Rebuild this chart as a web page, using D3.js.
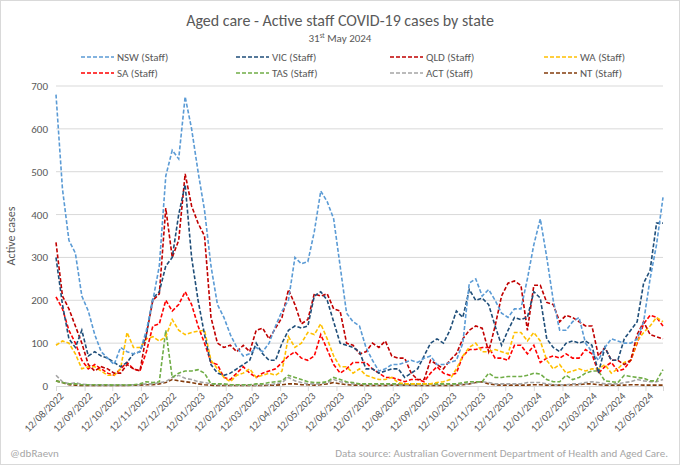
<!DOCTYPE html>
<html>
<head>
<meta charset="utf-8">
<script src="https://cdn.jsdelivr.net/npm/d3@7"></script>
<style>
  body { margin: 0; background: #fff; }
  text { font-family: Calibri, Carlito, "Open Sans", sans-serif; }
</style>
</head>
<body>
<div id="chart"></div>
<script>
// weekly reporting dates, starting 12/08/2022
const startDate = new Date(2022, 7, 12);
const endDate = new Date(2024, 4, 31);

const nsw = [680,460,340,310,210,175,120,80,65,50,90,80,75,80,130,200,280,490,550,530,675,600,500,410,280,190,160,120,90,70,75,90,80,100,140,175,200,300,285,290,360,455,430,390,280,170,150,140,90,60,35,40,50,50,55,60,55,65,70,50,50,55,60,100,240,250,210,225,200,170,160,180,180,250,330,390,300,200,130,130,150,160,100,80,60,90,110,105,100,100,110,150,250,330,440];
const vic = [300,190,110,90,130,70,80,70,65,55,45,55,75,80,120,205,220,280,300,400,470,300,200,120,50,30,25,30,40,50,60,100,75,60,60,100,130,140,135,140,210,220,200,150,100,95,90,80,40,40,30,35,40,40,20,30,40,70,100,110,100,130,175,160,225,200,205,190,140,95,130,160,155,160,220,205,110,90,80,100,105,100,105,95,30,90,60,60,110,130,150,240,270,380,380];
const qld = [335,210,180,140,100,50,35,45,40,30,30,50,40,35,120,200,215,415,300,340,495,420,380,350,160,100,90,95,80,95,80,130,135,110,135,160,225,190,145,155,215,210,215,180,175,100,95,75,80,100,90,105,70,65,65,30,15,15,60,50,40,60,75,110,130,140,135,80,140,210,240,245,235,130,235,235,195,190,150,165,160,150,140,140,70,90,60,60,50,60,120,150,120,115,110];
const wa = [95,105,100,75,40,45,45,35,25,25,40,125,90,90,110,115,105,115,155,130,120,125,128,130,60,40,20,10,25,30,40,20,25,30,25,35,115,90,100,125,120,145,110,70,45,45,30,40,25,20,15,15,20,8,5,5,5,5,5,8,10,15,40,70,90,100,80,80,85,80,75,125,125,105,125,105,60,40,50,30,35,40,35,40,40,50,30,40,55,60,105,125,140,160,150];
const sa = [208,180,130,100,60,40,50,40,30,25,40,55,40,35,80,140,145,200,175,190,220,190,140,100,55,50,20,15,30,45,30,20,30,35,40,55,70,80,65,60,70,120,85,50,30,40,55,55,55,40,30,20,20,15,10,15,15,10,30,45,30,25,30,70,85,85,90,90,65,65,60,95,95,75,95,55,65,70,65,75,65,65,85,75,30,45,55,35,40,60,100,145,165,160,140];
const tas = [12,8,5,5,3,3,3,3,3,2,3,2,3,5,10,8,10,130,20,30,35,35,38,30,5,5,5,3,3,3,3,5,5,8,10,12,25,20,15,10,8,8,10,20,15,10,8,5,5,5,5,5,5,5,5,5,5,5,5,5,5,5,5,8,10,10,10,30,20,20,22,22,22,25,30,28,15,10,10,25,15,20,30,35,35,12,10,8,25,22,20,18,12,12,38];
const act = [25,10,5,8,4,3,2,2,2,2,2,2,3,3,5,5,8,10,20,25,18,15,10,8,5,3,3,2,2,2,2,2,3,3,5,8,20,12,8,5,5,5,8,15,10,8,5,4,3,3,3,3,3,2,2,2,2,3,3,3,3,3,3,5,5,8,10,8,5,5,5,5,5,8,8,8,5,3,3,3,5,5,8,10,8,5,5,5,8,10,15,12,10,10,15];
const nt = [12,8,3,2,1,1,1,1,1,1,1,1,2,2,3,3,5,8,15,12,10,8,5,3,2,1,1,1,1,1,1,1,1,2,2,3,5,5,3,3,2,3,5,8,5,3,2,2,1,1,1,1,2,2,2,2,1,1,1,1,1,1,2,3,5,8,10,5,3,2,2,2,2,2,3,3,2,2,2,2,3,3,5,5,3,2,2,2,2,3,3,2,2,2,2];

const seriesNames = ["NSW (Staff)","VIC (Staff)","QLD (Staff)","WA (Staff)","SA (Staff)","TAS (Staff)","ACT (Staff)","NT (Staff)"];
const seriesColors = ["#5B9BD5","#1F4E79","#C00000","#FFC000","#FF0000","#70AD47","#A5A5A5","#843C0C"];
const seriesValues = [nsw, vic, qld, wa, sa, tas, act, nt];
const yTicks = [0,100,200,300,400,500,600,700];

const width = 680, height = 465;
const margin = {top: 86, right: 17, bottom: 79, left: 56};
const innerW = width - margin.left - margin.right;
const innerH = height - margin.top - margin.bottom;

const dates = nsw.map((d, i) => d3.timeDay.offset(startDate, i * 7));
const tickDates = d3.range(22).map(k => new Date(2022, 7 + k, 12));

const svg = d3.select("#chart").append("svg")
    .attr("width", width)
    .attr("height", height);

svg.append("rect")
    .attr("x", 0.5).attr("y", 0.5)
    .attr("width", width - 1).attr("height", height - 1)
    .style("fill", "#fff").style("stroke", "#d9d9d9");

const x = d3.scaleTime().domain([startDate, endDate]).range([0, innerW]);
const y = d3.scaleLinear().domain([0, 700]).range([innerH, 0]);

const g = svg.append("g")
    .attr("transform", "translate(" + margin.left + "," + margin.top + ")");

// gridlines
g.append("g").selectAll("line")
    .data(yTicks.slice(1))
    .enter().append("line")
    .attr("x1", 0).attr("x2", innerW)
    .attr("y1", d => y(d)).attr("y2", d => y(d))
    .style("stroke", "#d9d9d9").style("stroke-width", 1);

const yAxis = g.append("g")
    .call(d3.axisLeft(y).tickValues(yTicks).tickSize(0).tickPadding(8));
yAxis.select(".domain").remove();
yAxis.selectAll("text").style("fill", "#595959").style("font-size", "11px");

const xAxis = g.append("g")
    .attr("transform", "translate(0," + innerH + ")")
    .call(d3.axisBottom(x).tickValues(tickDates).tickFormat(d3.timeFormat("%d/%m/%Y")).tickSize(5));
xAxis.select(".domain").style("stroke", "#d9d9d9");
xAxis.selectAll(".tick line").style("stroke", "#d9d9d9");
xAxis.selectAll("text")
    .style("fill", "#595959").style("font-size", "10.5px")
    .style("text-anchor", "end")
    .attr("dx", "-0.2em").attr("dy", "0.5em")
    .attr("transform", "rotate(-45)");

const line = d3.line()
    .x((d, i) => x(dates[i]))
    .y(d => y(d));

// draw small series first so NSW sits on top like the original
for (let s = seriesValues.length - 1; s >= 0; s--) {
  g.append("path")
      .datum(seriesValues[s])
      .attr("d", line)
      .style("fill", "none")
      .style("stroke", seriesColors[s])
      .style("stroke-width", 1.6)
      .style("stroke-dasharray", "4,2");
}

// y label
svg.append("text")
    .attr("transform", "translate(15," + (margin.top + innerH / 2) + ") rotate(-90)")
    .attr("text-anchor", "middle")
    .style("fill", "#595959").style("font-size", "12px")
    .text("Active cases");

// titles
svg.append("text")
    .attr("x", width / 2).attr("y", 26)
    .attr("text-anchor", "middle")
    .style("fill", "#595959").style("font-size", "16px")
    .text("Aged care - Active staff COVID-19 cases by state");

const sub = svg.append("text")
    .attr("x", width / 2).attr("y", 42)
    .attr("text-anchor", "middle")
    .style("fill", "#595959").style("font-size", "11px");
sub.append("tspan").text("31");
sub.append("tspan").attr("dy", "-4").style("font-size", "7px").text("st");
sub.append("tspan").attr("dy", "4").text(" May 2024");

// legend
const legX = [81, 236, 390, 544];
const legend = svg.append("g").selectAll("g")
    .data(seriesNames)
    .enter().append("g")
    .attr("transform", (d, i) => "translate(" + legX[i % 4] + "," + (57 + Math.floor(i / 4) * 16) + ")");
legend.append("line")
    .attr("x1", 0).attr("x2", 33)
    .style("stroke", (d, i) => seriesColors[i])
    .style("stroke-width", 1.6)
    .style("stroke-dasharray", "4,2");
legend.append("text")
    .attr("x", 36).attr("dy", "0.35em")
    .style("fill", "#595959").style("font-size", "11px")
    .text(d => d);

// footer
svg.append("text")
    .attr("x", 10).attr("y", 457)
    .style("fill", "#a6a6a6").style("font-size", "11px")
    .text("@dbRaevn");
svg.append("text")
    .attr("x", 668).attr("y", 457)
    .attr("text-anchor", "end")
    .style("fill", "#a6a6a6").style("font-size", "11px")
    .text("Data source: Australian Government Department of Health and Aged Care.");
</script>
</body>
</html>
